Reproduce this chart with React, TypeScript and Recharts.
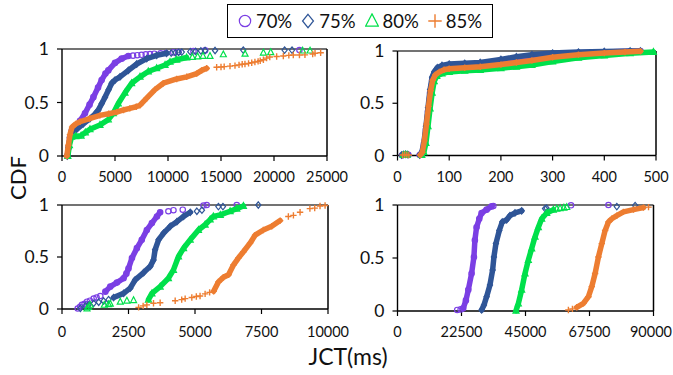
import React from 'react';
import { ScatterChart, Scatter, XAxis, YAxis, ReferenceLine } from 'recharts';

type Pt = [number, number];

const FONT = 'Lato, "Open Sans", sans-serif';

// series: load levels
const seriesNames = ['70%', '75%', '80%', '85%'];
const seriesColors = ['#7B3FE4', '#2F5597', '#00E04B', '#ED7D31'];
const markerKinds = ['circle', 'diamond', 'triangle', 'plus'];

// tick labels
const tlTicks = [0, 5000, 10000, 15000, 20000, 25000];
const trTicks = [0, 100, 200, 300, 400, 500];
const blTicks = [0, 2500, 5000, 7500, 10000];
const brTicks = [0, 22500, 45000, 67500, 90000];
const yTicks = [0, 0.5, 1];

// top-left panel (JCT ms, CDF) — dense part ("band") and sparse markers ("dots")
const tlBand70: Pt[] = [[500, 0], [620, 0.08], [750, 0.17], [900, 0.23], [1100, 0.25], [1400, 0.28], [1700, 0.33], [2170, 0.4], [2600, 0.48], [2960, 0.55], [3400, 0.64], [3740, 0.71], [4100, 0.77], [4370, 0.8], [5000, 0.87], [5630, 0.91], [6260, 0.935]];
const tlDots70: Pt[] = [[6700, 0.938], [7100, 0.942], [7500, 0.946], [7900, 0.95], [8300, 0.953], [8700, 0.956], [9300, 0.96], [9800, 0.963], [10500, 0.968], [11000, 0.972], [12400, 0.98], [13500, 0.987], [22400, 0.99]];
const tlBand75: Pt[] = [[500, 0], [620, 0.08], [750, 0.17], [900, 0.22], [1100, 0.24], [1380, 0.25], [2000, 0.3], [2640, 0.35], [3100, 0.39], [3430, 0.43], [3750, 0.49], [4060, 0.55], [4400, 0.62], [4690, 0.68], [5000, 0.71], [5470, 0.74], [6260, 0.8], [7050, 0.86], [7990, 0.91], [8930, 0.94], [9870, 0.96]];
const tlDots75: Pt[] = [[10300, 0.962], [10700, 0.965], [11000, 0.968], [11300, 0.971], [12100, 0.975], [12600, 0.978], [13100, 0.982], [13500, 0.986], [14440, 0.986], [17100, 0.99], [21000, 0.99], [21700, 0.99]];
const tlBand80: Pt[] = [[550, 0], [700, 0.1], [900, 0.18], [1300, 0.185], [1800, 0.19], [2200, 0.22], [2640, 0.25], [3580, 0.29], [4370, 0.34], [4840, 0.4], [5310, 0.49], [5940, 0.59], [6570, 0.68], [7360, 0.74], [8140, 0.79], [8930, 0.82], [9720, 0.85], [10190, 0.88], [10820, 0.9], [11760, 0.92]];
const tlDots80: Pt[] = [[12300, 0.925], [12800, 0.93], [13300, 0.935], [13960, 0.935], [15220, 0.95], [17270, 0.955], [19000, 0.966], [19690, 0.97], [22700, 0.985], [23400, 0.985]];
const tlBand85: Pt[] = [[450, 0], [600, 0.1], [750, 0.2], [950, 0.27], [1300, 0.3], [1700, 0.32], [2600, 0.35], [3580, 0.38], [4400, 0.395], [5160, 0.41], [5800, 0.43], [6400, 0.445], [7000, 0.46], [7360, 0.475], [7990, 0.54], [8770, 0.62], [9560, 0.68], [10820, 0.72], [11760, 0.74], [12700, 0.77], [13180, 0.8], [13650, 0.82]];
const tlDots85: Pt[] = [[14590, 0.83], [15000, 0.832], [15300, 0.835], [15850, 0.84], [16320, 0.845], [16700, 0.852], [17000, 0.857], [17260, 0.86], [17600, 0.866], [17900, 0.872], [18200, 0.878], [18500, 0.884], [18700, 0.89], [19000, 0.9], [19300, 0.915], [19600, 0.925], [20250, 0.93], [20880, 0.935], [21400, 0.94], [21820, 0.944], [22400, 0.944], [22920, 0.945], [23650, 0.953], [23870, 0.96], [24400, 0.965]];

// top-right panel
const trBand70: Pt[] = [[43, 0.005], [47, 0.02], [51, 0.1], [55, 0.25], [59, 0.42], [63, 0.6], [67, 0.72], [71, 0.78], [77, 0.82], [86, 0.85], [100, 0.862], [130, 0.872], [160, 0.878], [200, 0.905], [230, 0.93], [260, 0.952], [300, 0.97], [350, 0.983], [400, 0.99], [450, 0.997], [470, 1]];
const trDots70: Pt[] = [[9, 0.003], [13, 0.008], [17, 0.01], [21, 0.006]];
const trBand75: Pt[] = [[43, 0.005], [47, 0.03], [51, 0.12], [55, 0.28], [59, 0.46], [63, 0.63], [67, 0.75], [71, 0.8], [77, 0.84], [86, 0.862], [100, 0.875], [130, 0.882], [160, 0.89], [200, 0.92], [230, 0.945], [260, 0.965], [300, 0.98], [350, 0.99], [400, 0.995], [450, 1], [470, 1]];
const trDots75: Pt[] = [[8, 0.005], [12, 0.01], [16, 0.012], [20, 0.008]];
const trBand80: Pt[] = [[47, 0.005], [51, 0.03], [55, 0.12], [59, 0.28], [63, 0.45], [67, 0.6], [71, 0.71], [76, 0.76], [86, 0.785], [100, 0.8], [130, 0.81], [160, 0.818], [200, 0.835], [230, 0.85], [260, 0.865], [300, 0.9], [350, 0.935], [400, 0.958], [450, 0.978], [495, 0.99]];
const trDots80: Pt[] = [[11, 0.004], [15, 0.008], [19, 0.006]];
const trBand85: Pt[] = [[44, 0.005], [48, 0.03], [52, 0.14], [56, 0.3], [60, 0.47], [64, 0.62], [68, 0.72], [73, 0.77], [81, 0.8], [90, 0.82], [100, 0.83], [130, 0.84], [160, 0.85], [200, 0.87], [230, 0.89], [260, 0.91], [300, 0.94], [350, 0.965], [400, 0.98], [440, 0.99], [470, 0.998]];
const trDots85: Pt[] = [[10, 0.005], [14, 0.01], [18, 0.008], [22, 0.005]];

// bottom-left panel
const blBand70: Pt[] = [[1630, 0.167], [1815, 0.215], [2065, 0.254], [2315, 0.296], [2420, 0.34], [2500, 0.39], [2630, 0.49], [2815, 0.585], [3000, 0.665], [3190, 0.76], [3380, 0.826], [3570, 0.89], [3690, 0.93]];
const blDots70: Pt[] = [[590, 0.005], [680, 0.02], [750, 0.04], [850, 0.05], [940, 0.07], [1050, 0.08], [1190, 0.1], [1300, 0.11], [1440, 0.125], [4000, 0.94], [4190, 0.95], [4540, 0.955], [5320, 0.995], [5440, 1], [6570, 1]];
const blBand75: Pt[] = [[1940, 0.11], [2315, 0.15], [2565, 0.2], [2750, 0.28], [3070, 0.35], [3320, 0.41], [3440, 0.47], [3500, 0.57], [3630, 0.665], [3820, 0.73], [4070, 0.795], [4320, 0.84], [4570, 0.89], [4820, 0.93]];
const blDots75: Pt[] = [[690, 0.006], [880, 0.03], [1000, 0.04], [1190, 0.055], [1380, 0.065], [1565, 0.077], [1750, 0.09], [5070, 0.94], [5260, 0.95], [5880, 0.985], [6050, 0.985], [7380, 1]];
const blBand80: Pt[] = [[3250, 0.09], [3380, 0.15], [3690, 0.215], [4000, 0.296], [4190, 0.376], [4380, 0.505], [4570, 0.585], [4820, 0.665], [5130, 0.76], [5380, 0.81], [5570, 0.86], [5690, 0.89], [5950, 0.905], [6320, 0.94], [6570, 0.965], [6820, 0.99]];
const blDots80: Pt[] = [[940, 0.006], [1000, 0.02], [1060, 0.04], [1590, 0.04], [1750, 0.045], [1815, 0.05], [2190, 0.07], [2440, 0.08], [2690, 0.085]];
const blBand85: Pt[] = [[5700, 0.17], [5880, 0.26], [6070, 0.305], [6260, 0.33], [6450, 0.425], [6630, 0.49], [6820, 0.55], [7070, 0.633], [7260, 0.71], [7570, 0.76], [7885, 0.795], [8200, 0.85]];
const blDots85: Pt[] = [[2880, 0.016], [3050, 0.03], [3190, 0.04], [3440, 0.055], [3690, 0.06], [4255, 0.08], [4500, 0.09], [4630, 0.1], [4880, 0.11], [5050, 0.12], [5190, 0.125], [5380, 0.145], [5550, 0.16], [8510, 0.89], [8700, 0.9], [8950, 0.93], [9320, 0.965], [9500, 0.97], [9700, 0.99], [9890, 0.995]];

// bottom-right panel
const brBand70: Pt[] = [[23100, 0.025], [24050, 0.1], [24900, 0.2], [26050, 0.354], [26870, 0.51], [27200, 0.667], [27800, 0.79], [28750, 0.87], [29570, 0.925], [31330, 0.956], [33090, 0.987]];
const brDots70: Pt[] = [[21000, 0.01], [22200, 0.015], [33680, 0.99], [61000, 0.997], [74160, 1]];
const brBand75: Pt[] = [[29570, 0.01], [30390, 0.056], [31330, 0.135], [32500, 0.245], [33440, 0.386], [33900, 0.51], [34600, 0.636], [35790, 0.76], [36840, 0.84], [38370, 0.86], [39540, 0.9], [41300, 0.925], [43650, 0.945]];
const brDots75: Pt[] = [[51870, 0.966], [52400, 0.97], [77100, 0.985], [83540, 0.995]];
const brBand80: Pt[] = [[41660, 0.003], [42480, 0.07], [43650, 0.2], [44830, 0.354], [46000, 0.48], [47170, 0.59], [48350, 0.7], [49520, 0.79], [50690, 0.87], [52450, 0.925], [54800, 0.955]];
const brDots80: Pt[] = [[56000, 0.965], [57150, 0.97], [58500, 0.975], [59500, 0.98]];
const brBand85: Pt[] = [[63010, 0.035], [65360, 0.072], [67120, 0.135], [68300, 0.23], [69470, 0.354], [70640, 0.51], [71820, 0.636], [72990, 0.76], [74160, 0.84], [75330, 0.87], [77100, 0.9], [79430, 0.935], [82950, 0.956], [86470, 0.975]];
const brDots85: Pt[] = [[60080, 0.01], [61500, 0.02], [88250, 0.98]];

const toXY = (a: Pt[]) => a.map(([x, y]) => ({ x, y }));

const Marker = ({ kind, color, cx, cy, s = 1 }: any) => {
  if (cx == null || cy == null) return null;
  if (kind === 'circle')
    return <circle cx={cx} cy={cy} r={2.7 * s} fill="none" stroke={color} strokeWidth={1.2} />;
  if (kind === 'diamond')
    return <path d={`M${cx},${cy - 3.2 * s}L${cx + 2.6 * s},${cy}L${cx},${cy + 3.2 * s}L${cx - 2.6 * s},${cy}Z`} fill="none" stroke={color} strokeWidth={1.2} />;
  if (kind === 'triangle')
    return <path d={`M${cx},${cy - 3.4 * s}L${cx + 3 * s},${cy + 2.4 * s}L${cx - 3 * s},${cy + 2.4 * s}Z`} fill="none" stroke={color} strokeWidth={1.2} />;
  return <path d={`M${cx - 3.2 * s},${cy}H${cx + 3.2 * s}M${cx},${cy - 3.2 * s}V${cy + 3.2 * s}`} stroke={color} strokeWidth={1.4} />;
};

const X_FS = 14.5;

// x tick label, pulled left if it would run past the chart's right edge
const XTick = ({ x, y, payload, maxX }: any) => {
  const label = String(payload.value);
  const half = (label.length * 0.58 * X_FS) / 2;
  const tx = Math.min(x, maxX - half);
  return (
    <text x={tx} y={y} dy="0.71em" textAnchor="middle" fill="#111" fontSize={X_FS} fontFamily={FONT}>
      {label}
    </text>
  );
};

interface PanelProps {
  left: number;
  top: number;
  width: number;
  height: number;
  plot: [number, number, number, number]; // left, top, right, bottom in page px
  xTicks: number[];
  bands: Pt[][];
  dots: Pt[][];
  tickGap?: number;
}

const Panel = ({ left, top, width, height, plot, xTicks, bands, dots, tickGap = 11 }: PanelProps) => {
  const yw = 40;
  const xh = 30;
  const margin = {
    top: plot[1] - top,
    left: plot[0] - left - yw,
    right: left + width - plot[2],
    bottom: top + height - plot[3] - xh,
  };
  const xMax = xTicks[xTicks.length - 1];
  return (
    <div style={{ position: 'absolute', left, top }}>
      <ScatterChart width={width} height={height} margin={margin} style={{ overflow: 'visible' }}>
        <XAxis
          type="number"
          dataKey="x"
          domain={[0, xMax]}
          ticks={xTicks}
          interval={0}
          height={xh}
          tickSize={5}
          tickMargin={tickGap}
          axisLine={{ stroke: '#000', strokeWidth: 1.4 }}
          tickLine={{ stroke: '#000', strokeWidth: 1.2 }}
          tick={(p: any) => <XTick {...p} maxX={width - 1} />}
        />
        <YAxis
          type="number"
          dataKey="y"
          domain={[0, 1]}
          ticks={yTicks}
          interval={0}
          width={yw}
          tickSize={5}
          tickMargin={8}
          axisLine={{ stroke: '#000', strokeWidth: 1.4 }}
          tickLine={{ stroke: '#000', strokeWidth: 1.2 }}
          tick={{ fill: '#111', fontSize: 17.5, fontFamily: FONT }}
        />
        <ReferenceLine y={1} stroke="#444" strokeWidth={1.3} />
        <ReferenceLine x={xMax} stroke="#000" strokeWidth={1.5} />
        {seriesNames.map((name, i) => [
          <Scatter
            key={`band-${name}`}
            data={toXY(bands[i])}
            line={{ stroke: seriesColors[i], strokeWidth: 5.5, strokeLinejoin: 'round', strokeLinecap: 'round' }}
            lineType="joint"
            shape={(p: any) => <Marker kind={markerKinds[i]} color={seriesColors[i]} cx={p.cx} cy={p.cy} />}
            isAnimationActive={false}
          />,
          <Scatter
            key={`dots-${name}`}
            data={toXY(dots[i])}
            shape={(p: any) => <Marker kind={markerKinds[i]} color={seriesColors[i]} cx={p.cx} cy={p.cy} />}
            isAnimationActive={false}
          />,
        ])}
      </ScatterChart>
    </div>
  );
};

const LegendBox = () => (
  <div
    style={{
      position: 'absolute',
      left: 227,
      top: 4,
      width: 266,
      height: 34,
      boxSizing: 'border-box',
      border: '1.5px solid #000',
      display: 'flex',
      alignItems: 'center',
      justifyContent: 'center',
      gap: 9,
      fontFamily: FONT,
      fontSize: 18.5,
      color: '#111',
      background: '#fff',
    }}
  >
    {seriesNames.map((name, i) => (
      <div key={name} style={{ display: 'flex', alignItems: 'center', gap: 4 }}>
        <svg width={14} height={16}>
          <Marker kind={markerKinds[i]} color={seriesColors[i]} cx={7} cy={8} s={2.1} />
        </svg>
        <span>{name}</span>
      </div>
    ))}
  </div>
);

const App = () => (
  <div style={{ position: 'absolute', left: 0, top: 0, width: 673, height: 375, background: '#fff', overflow: 'hidden' }}>
    <Panel left={0} top={30} width={370} height={170} plot={[62, 49, 327, 156]} xTicks={tlTicks}
      bands={[tlBand70, tlBand75, tlBand80, tlBand85]} dots={[tlDots70, tlDots75, tlDots80, tlDots85]} />
    <Panel left={340} top={30} width={333} height={170} plot={[397.5, 51, 656, 155.5]} xTicks={trTicks}
      bands={[trBand70, trBand75, trBand80, trBand85]} dots={[trDots70, trDots75, trDots80, trDots85]} />
    <Panel left={0} top={190} width={370} height={150} plot={[62, 205, 328, 309]} xTicks={blTicks} tickGap={13}
      bands={[blBand70, blBand75, blBand80, blBand85]} dots={[blDots70, blDots75, blDots80, blDots85]} />
    <Panel left={340} top={190} width={333} height={150} plot={[397.5, 205, 653.5, 311]} xTicks={brTicks}
      bands={[brBand70, brBand75, brBand80, brBand85]} dots={[brDots70, brDots75, brDots80, brDots85]} />
    <LegendBox />
    <div style={{ position: 'absolute', left: 17, top: 178, transform: 'translate(-50%, -50%) rotate(-90deg)', fontFamily: FONT, fontSize: 22, color: '#111', whiteSpace: 'nowrap' }}>
      CDF
    </div>
    <div style={{ position: 'absolute', left: 348, top: 356, transform: 'translate(-50%, -50%)', fontFamily: FONT, fontSize: 23, color: '#111', whiteSpace: 'nowrap' }}>
      JCT(ms)
    </div>
  </div>
);

export default App;
